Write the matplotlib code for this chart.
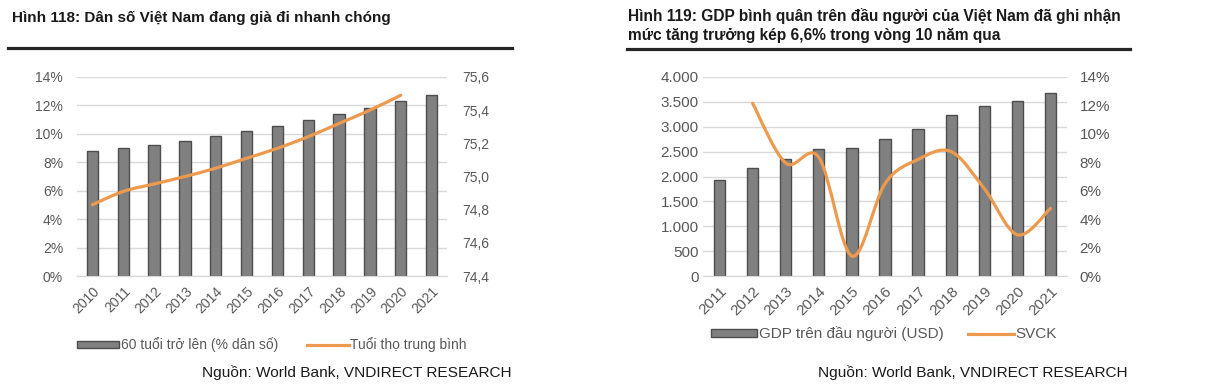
import numpy as np
import matplotlib
matplotlib.use("Agg")
import matplotlib.pyplot as plt
from matplotlib.path import Path
from matplotlib.patches import PathPatch
from matplotlib.lines import Line2D
from matplotlib.ticker import FuncFormatter

plt.rcParams['font.family'] = ['Liberation Sans', 'DejaVu Sans']

# Hình 118
years_a = ['2010', '2011', '2012', '2013', '2014', '2015', '2016', '2017', '2018', '2019', '2020', '2021']
pop60 = [8.8, 9.0, 9.25, 9.53, 9.82, 10.2, 10.58, 10.96, 11.4, 11.85, 12.28, 12.75]
life_exp = [74.83, 74.91, 74.955, 75.0, 75.05, 75.11, 75.17, 75.24, 75.32, 75.40, 75.49]

# Hình 119
years_b = ['2011', '2012', '2013', '2014', '2015', '2016', '2017', '2018', '2019', '2020', '2021']
gdp_pc = [1930, 2165, 2345, 2550, 2580, 2745, 2955, 3230, 3410, 3515, 3680]
svck = [12.15, 7.95, 8.35, 1.4, 6.5, 8.2, 8.75, 6.15, 2.9, 4.75]

BAR = '#808080'
EDGE = '#4d4d4d'
ORANGE = '#ED9A4F'
GRID = '#d9d9d9'
TXT = '#595959'

W, H = 1231, 389
fig = plt.figure(figsize=(W / 100, H / 100), dpi=100)


def fx(px):
    return px / W


def fy(py):
    return 1 - py / H


def smooth_line(ax, xs, ys, **kw):
    # Excel-style smoothed line drawn as cubic Bezier segments
    xs = np.asarray(xs, float)
    ys = np.asarray(ys, float)
    n = len(xs)
    verts = [(xs[0], ys[0])]
    codes = [Path.MOVETO]
    for i in range(n - 1):
        x0, y0 = (xs[i - 1], ys[i - 1]) if i > 0 else (xs[i], ys[i])
        x3, y3 = (xs[i + 2], ys[i + 2]) if i + 2 < n else (xs[i + 1], ys[i + 1])
        c1 = (xs[i] + (xs[i + 1] - x0) / 6, ys[i] + (ys[i + 1] - y0) / 6)
        c2 = (xs[i + 1] - (x3 - xs[i]) / 6, ys[i + 1] - (y3 - ys[i]) / 6)
        verts += [c1, c2, (xs[i + 1], ys[i + 1])]
        codes += [Path.CURVE4] * 3
    patch = PathPatch(Path(verts, codes), facecolor='none', **kw)
    ax.add_patch(patch)


def style(ax, ax2, fs, lpad, rpad):
    for a in (ax, ax2):
        for s in ['top', 'left', 'right']:
            a.spines[s].set_visible(False)
        a.spines['bottom'].set_color(GRID)
        a.tick_params(length=0, colors=TXT, labelsize=fs)
    ax.grid(axis='y', color=GRID, linewidth=1)
    ax.set_axisbelow(True)
    ax.tick_params(axis='y', pad=lpad)
    ax.tick_params(axis='x', pad=6)
    ax2.tick_params(axis='y', pad=rpad)


def add_legend(label_bar, label_line, cx, cy, fs, colsp):
    h1 = plt.Rectangle((0, 0), 1, 1, facecolor=BAR, edgecolor=EDGE, linewidth=1)
    h2 = Line2D([0], [0], color=ORANGE, linewidth=2.3)
    fig.legend([h1, h2], [label_bar, label_line], loc='center',
               bbox_to_anchor=(fx(cx), fy(cy)), ncol=2, frameon=False,
               fontsize=fs, handlelength=3.0, handleheight=0.45,
               handletextpad=0.1, columnspacing=colsp, labelcolor=TXT)


# ---- left chart ----
ax = fig.add_axes([fx(77), fy(276), fx(370), (276 - 77) / H])
ax2 = ax.twinx()
x = np.arange(len(years_a))
ax.bar(x, pop60, width=0.37, color=BAR, edgecolor=EDGE, linewidth=1)
ax.set_ylim(0, 14)
ax.set_yticks(np.arange(0, 15, 2))
ax.yaxis.set_major_formatter(FuncFormatter(lambda v, p: f'{v:.0f}%'))
ax.set_xlim(-0.5, len(years_a) - 0.5)
ax.set_xticks(x)
ax.set_xticklabels(years_a, rotation=45, ha='right', rotation_mode='anchor')
ax2.set_ylim(74.4, 75.6)
ax2.set_yticks(np.arange(74.4, 75.61, 0.2))
ax2.yaxis.set_major_formatter(FuncFormatter(lambda v, p: f'{v:.1f}'.replace('.', ',')))
smooth_line(ax2, x[:len(life_exp)], life_exp, edgecolor=ORANGE, linewidth=2.3, capstyle='round')
style(ax, ax2, 10, 10, 11)
add_legend('60 tuổi trở lên (% dân số)', 'Tuổi thọ trung bình', 272, 345, 10, 2.1)

# ---- right chart ----
bx = fig.add_axes([fx(703), fy(276), fx(364), (276 - 77) / H])
bx2 = bx.twinx()
x2 = np.arange(len(years_b))
bx.bar(x2, gdp_pc, width=0.34, color=BAR, edgecolor=EDGE, linewidth=1)
bx.set_ylim(0, 4000)
bx.set_yticks(np.arange(0, 4001, 500))
bx.yaxis.set_major_formatter(FuncFormatter(lambda v, p: f'{v:,.0f}'.replace(',', '.')))
bx.set_xlim(-0.5, len(years_b) - 0.5)
bx.set_xticks(x2)
bx.set_xticklabels(years_b, rotation=45, ha='right', rotation_mode='anchor')
bx2.set_ylim(0, 14)
bx2.set_yticks(np.arange(0, 15, 2))
bx2.yaxis.set_major_formatter(FuncFormatter(lambda v, p: f'{v:.0f}%'))
smooth_line(bx2, x2[1:], svck, edgecolor=ORANGE, linewidth=2.3, capstyle='round')
style(bx, bx2, 11, 3, 9)
add_legend('GDP trên đầu người (USD)', 'SVCK', 884, 334, 11, 1.6)

# ---- titles, rules, sources ----
fig.text(fx(12), fy(22), 'Hình 118: Dân số Việt Nam đang già đi nhanh chóng',
         fontsize=11, fontweight='bold', color='#1a1a1a', va='baseline')
fig.text(fx(628), fy(21), 'Hình 119: GDP bình quân trên đầu người của Việt Nam đã ghi nhận',
         fontsize=11.2, fontweight='bold', color='#1a1a1a', va='baseline')
fig.text(fx(628), fy(40), 'mức tăng trưởng kép 6,6% trong vòng 10 năm qua',
         fontsize=11.2, fontweight='bold', color='#1a1a1a', va='baseline')
fig.add_artist(Line2D([fx(8), fx(512)], [fy(48), fy(48)], color='#262626', linewidth=2.3))
fig.add_artist(Line2D([fx(627), fx(1130)], [fy(49), fy(49)], color='#262626', linewidth=2.3))
fig.text(fx(512), fy(377), 'Nguồn: World Bank, VNDIRECT RESEARCH',
         fontsize=11.1, color='#1a1a1a', ha='right', va='baseline')
fig.text(fx(1127), fy(377), 'Nguồn: World Bank, VNDIRECT RESEARCH',
         fontsize=11.1, color='#1a1a1a', ha='right', va='baseline')

fig.savefig('out.png', dpi=100)
